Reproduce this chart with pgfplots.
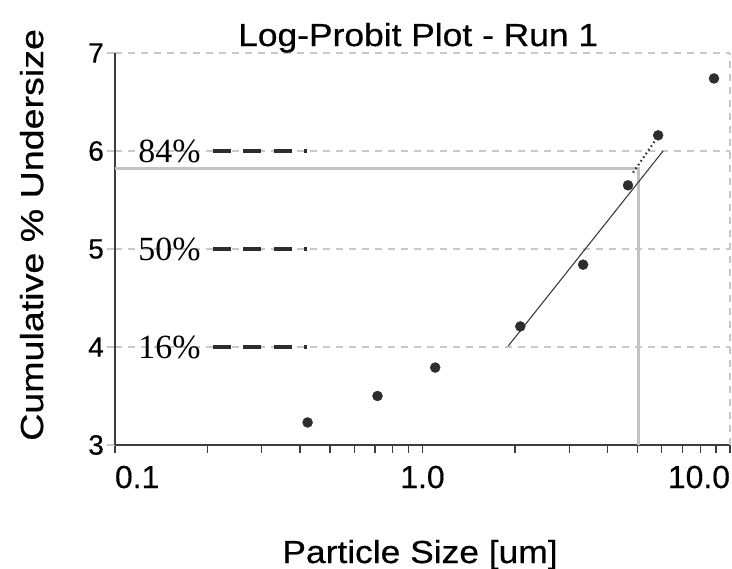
\documentclass[border=0pt]{standalone}
\usepackage{fontspec}
\setmainfont{Liberation Sans}
\newfontfamily\serif{Liberation Serif}
\newfontfamily\wide{Liberation Sans}[FakeStretch=1.11, FakeBold=0.6]
\newfontfamily\wider{Liberation Sans}[FakeStretch=1.18, FakeBold=0.6]
\newfontfamily\ticks{Liberation Sans}[FakeBold=0.4]
\usepackage{pgfplots}
\pgfplotsset{compat=1.18}

\definecolor{gridgray}{RGB}{200,200,200}
\definecolor{refgray}{RGB}{195,195,195}
\definecolor{dotgray}{RGB}{45,45,45}
\definecolor{axisgray}{RGB}{60,60,60}

% measured points (size in um, probit value)
\pgfplotstableread{
x y
0.423 3.23
0.714 3.50
1.10 3.79
2.08 4.21
3.33 4.84
4.66 5.65
5.84 6.16
8.87 6.74
}\points

\begin{document}
\begin{tikzpicture}
\begin{axis}[
  scale only axis, width=615bp, height=392bp,
  xmode=log, xmin=0.1, xmax=10, ymin=3, ymax=7,
  axis x line=bottom, axis y line=left,
  axis line style={-, axisgray, line width=1.6bp},
  xtick={0.1,1,10},
  minor xtick={0.2,0.3,0.4,0.5,0.6,0.7,0.8,0.9,2,3,4,5,6,7,8,9},
  xticklabels={\makebox[0pt][l]{0.1},1.0,\makebox[0pt][r]{10.0}},
  ytick={3,4,5,6,7},
  yticklabels={3,4,5,6,7},
  tick align=outside,
  major tick length=8bp, minor tick length=8bp,
  xtick style={axisgray, line width=1.3bp},
  ytick style={gridgray, line width=1.3bp},
  ymajorgrids,
  major grid style={gridgray, line width=1.3bp, dash pattern=on 7bp off 6bp},
  xticklabel style={font=\ticks\fontsize{32}{32}\selectfont, anchor=base, yshift=-35bp},
  yticklabel style={font=\ticks\fontsize{28}{28}\selectfont, anchor=east, inner sep=0pt, xshift=-3bp},
  title={Log-Probit Plot - Run 1},
  title style={font=\wide\fontsize{32}{32}\selectfont, at={(0.493,1)}, anchor=base, yshift=1bp},
  xlabel={Particle Size [um]},
  xlabel style={font=\wide\fontsize{32}{32}\selectfont, at={(0.496,0)}, anchor=base, yshift=-118bp},
  ylabel={Cumulative \% Undersize},
  ylabel style={font=\wider\fontsize{32}{32}\selectfont, at={(-0.117,0.536)}, anchor=base},
  clip=false,
]
% right border drawn as dashed grid line
\addplot[gridgray, line width=1.3bp, dash pattern=on 7bp off 6bp] coordinates {(10,3)(10,7)};
% 84% reference lines
\addplot[refgray, line width=3bp] coordinates {(0.1,5.82)(5.03,5.82)(5.03,3)};
% percentile markers
\addplot[dotgray, line width=3.5bp, dash pattern=on 18bp off 12.5bp] coordinates {(0.208,6)(0.42,6)};
\addplot[dotgray, line width=3.5bp, dash pattern=on 18bp off 12.5bp] coordinates {(0.208,5)(0.42,5)};
\addplot[dotgray, line width=3.5bp, dash pattern=on 18bp off 12.5bp] coordinates {(0.208,4)(0.42,4)};
\node[anchor=west, inner sep=0pt, font=\serif\fontsize{34}{34}\selectfont] at (axis cs:0.119,6) {84\%};
\node[anchor=west, inner sep=0pt, font=\serif\fontsize{34}{34}\selectfont] at (axis cs:0.119,5) {50\%};
\node[anchor=west, inner sep=0pt, font=\serif\fontsize{34}{34}\selectfont] at (axis cs:0.119,4) {16\%};
% fit line and extension
\addplot[axisgray, line width=1.1bp] coordinates {(1.9,4.01)(6.06,6.0)};
\addplot[dotgray, line width=2.2bp, dash pattern=on 1.5bp off 3bp] coordinates {(4.84,5.78)(5.75,6.12)};
% data
\addplot[only marks, mark=*, mark size=5bp, mark options={fill=dotgray, draw=dotgray}] table {\points};
\end{axis}
\pgfresetboundingbox
\path[use as bounding box] ([shift={(-115bp,-124bp)}]current axis.south west) rectangle ([shift={(2bp,53bp)}]current axis.north east);
\end{tikzpicture}
\end{document}
